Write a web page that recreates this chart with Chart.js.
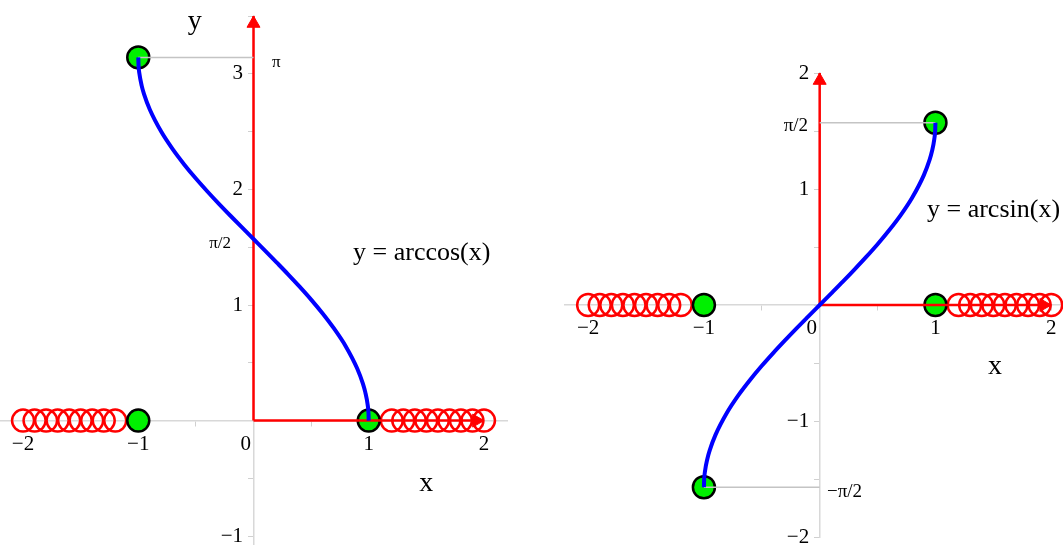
<!DOCTYPE html>
<html>
<head>
<meta charset="utf-8">
<script src="https://cdn.jsdelivr.net/npm/chart.js@4"></script>
<style>
  body { margin: 0; background: #fff; }
  #wrap { position: relative; width: 1063px; height: 545px; overflow: hidden; }
  canvas { position: absolute; top: 0; }
</style>
</head>
<body>
<div id="wrap">
  <canvas id="acos" width="530" height="545" style="left:0"></canvas>
  <canvas id="asin" width="533" height="545" style="left:530px"></canvas>
</div>
<script>
// curve samples
const curveX = [-1, -0.998, -0.99, -0.97, -0.95, -0.9, -0.8, -0.7, -0.6, -0.5, -0.4, -0.3, -0.2, -0.1, 0,
                0.1, 0.2, 0.3, 0.4, 0.5, 0.6, 0.7, 0.8, 0.9, 0.95, 0.97, 0.99, 0.998, 1];
const acosY = [3.142, 3.078, 3.000, 2.896, 2.824, 2.691, 2.498, 2.346, 2.214, 2.094, 1.982, 1.875, 1.772, 1.671, 1.571,
               1.471, 1.369, 1.266, 1.159, 1.047, 0.927, 0.795, 0.644, 0.451, 0.318, 0.246, 0.142, 0.063, 0];
const asinY = [-1.571, -1.508, -1.429, -1.325, -1.253, -1.120, -0.927, -0.775, -0.644, -0.524, -0.412, -0.305, -0.201, -0.100, 0,
               0.100, 0.201, 0.305, 0.412, 0.524, 0.644, 0.775, 0.927, 1.120, 1.253, 1.325, 1.429, 1.508, 1.571];

// green end points
const acosDots = [[-1, 3.142], [-1, 0], [1, 0]];
const asinDots = [[1, 1.571], [-1, -1.571], [-1, 0], [1, 0]];

// red open circles on the x axis (outside the domain)
const holeX = [-2, -1.9, -1.8, -1.7, -1.6, -1.5, -1.4, -1.3, -1.2,
               1.2, 1.3, 1.4, 1.5, 1.6, 1.7, 1.8, 1.9, 2];

// grey helper lines to the y axis
const acosGuides = [[[-1, 3.142], [0, 3.142]]];
const asinGuides = [[[0, 1.571], [1, 1.571]], [[-1, -1.571], [0, -1.571]]];

// red arrows from the origin
const acosArrows = [[2, 0], [0, 3.5]];
const asinArrows = [[2, 0], [0, 2]];

const HEAD = 0.065; // arrow head centre sits a bit before the tip
const SERIF = 'Liberation Serif';

function fmt(v) {
  return (v < 0 ? '\u2212' : '') + Math.abs(v);
}

function zeroFit(s) {
  if (s.isHorizontal()) s.height = 0; else s.width = 0;
  s.paddingTop = s.paddingBottom = s.paddingLeft = s.paddingRight = 0;
}

function axis(min, max, pos, isX) {
  return {
    type: 'linear', min: min, max: max, position: pos,
    afterFit: zeroFit,
    grid: { drawOnChartArea: false, color: '#d0d0d0', tickLength: 5 },
    border: { color: '#d8d8d8', width: 1.5 },
    ticks: {
      stepSize: 0.5, includeBounds: false, autoSkip: false, maxRotation: 0,
      color: '#000', padding: 6,
      font: { family: SERIF, size: 21 },
      callback: v => {
        if (!Number.isInteger(v)) return '';
        if (v === 0) return isX ? '0   ' : '';
        // y labels are right aligned on the axis itself, pad them off it
        return isX ? fmt(v) : fmt(v) + '  ';
      }
    }
  };
}

function buildSets(curveY, dots, guides, arrows) {
  const sets = [];
  sets.push({
    data: curveX.map((x, i) => ({ x: x, y: curveY[i] })),
    showLine: true, borderColor: '#0000ff', borderWidth: 4, pointRadius: 0,
    cubicInterpolationMode: 'monotone'
  });
  guides.forEach(g => sets.push({
    data: g.map(p => ({ x: p[0], y: p[1] })),
    showLine: true, borderColor: '#c4c4c4', borderWidth: 1.5, pointRadius: 0
  }));
  arrows.forEach(a => sets.push({
    data: [{ x: 0, y: 0 }, { x: a[0], y: a[1] }],
    showLine: true, borderColor: '#ff0000', borderWidth: 2.5, pointRadius: 0
  }));
  sets.push({
    data: arrows.map(a => ({ x: a[0] ? a[0] - HEAD : 0, y: a[1] ? a[1] - HEAD : 0 })),
    pointStyle: 'triangle', pointRadius: 7.5,
    pointRotation: arrows.map(a => a[0] ? 90 : 0),
    pointBackgroundColor: '#ff0000', pointBorderColor: '#ff0000', pointBorderWidth: 1
  });
  sets.push({
    data: dots.map(p => ({ x: p[0], y: p[1] })),
    pointRadius: 11, pointBackgroundColor: '#00f000', pointBorderColor: '#000', pointBorderWidth: 2.5
  });
  sets.push({
    data: holeX.map(x => ({ x: x, y: 0 })),
    pointRadius: 11, pointBackgroundColor: 'rgba(0,0,0,0)', pointBorderColor: '#ff0000', pointBorderWidth: 2.5
  });
  return sets;
}

// texts on the plots, placed in data units
const textPlugin = {
  id: 'notes',
  afterDatasetsDraw(chart) {
    const ctx = chart.ctx;
    const sx = chart.scales.x, sy = chart.scales.y;
    ctx.save();
    ctx.fillStyle = '#000';
    ctx.textBaseline = 'middle';
    (chart.options.plugins.notes.items || []).forEach(n => {
      ctx.font = n.size + 'px "' + SERIF + '"';
      ctx.textAlign = n.align || 'center';
      ctx.fillText(n.text, sx.getPixelForValue(n.x), sy.getPixelForValue(n.y));
    });
    ctx.restore();
  }
};

function makeChart(id, xr, yr, pad, sets, notes) {
  return new Chart(document.getElementById(id), {
    type: 'scatter',
    data: { datasets: sets.map(s => Object.assign({ clip: false }, s)) },
    options: {
      responsive: false,
      animation: false,
      events: [],
      layout: { padding: pad, autoPadding: false },
      plugins: { legend: { display: false }, tooltip: { enabled: false }, notes: { items: notes } },
      scales: {
        x: axis(xr[0], xr[1], { y: 0 }, true),
        y: axis(yr[0], yr[1], { x: 0 }, false)
      }
    },
    plugins: [textPlugin]
  });
}

makeChart('acos', [-2.2, 2.2], [-1.076, 3.5], { left: 0, right: 23, top: 16, bottom: 0 },
  buildSets(acosY, acosDots, acosGuides, acosArrows), [
    { text: 'y', x: -0.51, y: 3.45, size: 28 },
    { text: 'x', x: 1.5, y: -0.545, size: 28 },
    { text: 'y = arccos(x)', x: 0.864, y: 1.45, size: 26, align: 'left' },
    { text: '\u03c0', x: 0.16, y: 3.10, size: 17, align: 'left' },
    { text: '\u03c0/2', x: -0.195, y: 1.536, size: 17, align: 'right' }
  ]);

makeChart('asin', [-2.2, 2.102], [-2, 2], { left: 35, right: 0, top: 73, bottom: 8 },
  buildSets(asinY, asinDots, asinGuides, asinArrows), [
    { text: 'x', x: 1.515, y: -0.534, size: 28 },
    { text: 'y = arcsin(x)', x: 0.927, y: 0.82, size: 26, align: 'left' },
    { text: '\u03c0/2', x: -0.10, y: 1.543, size: 19, align: 'right' },
    { text: '\u2212\u03c0/2', x: 0.063, y: -1.612, size: 19, align: 'left' }
  ]);
</script>
</body>
</html>
